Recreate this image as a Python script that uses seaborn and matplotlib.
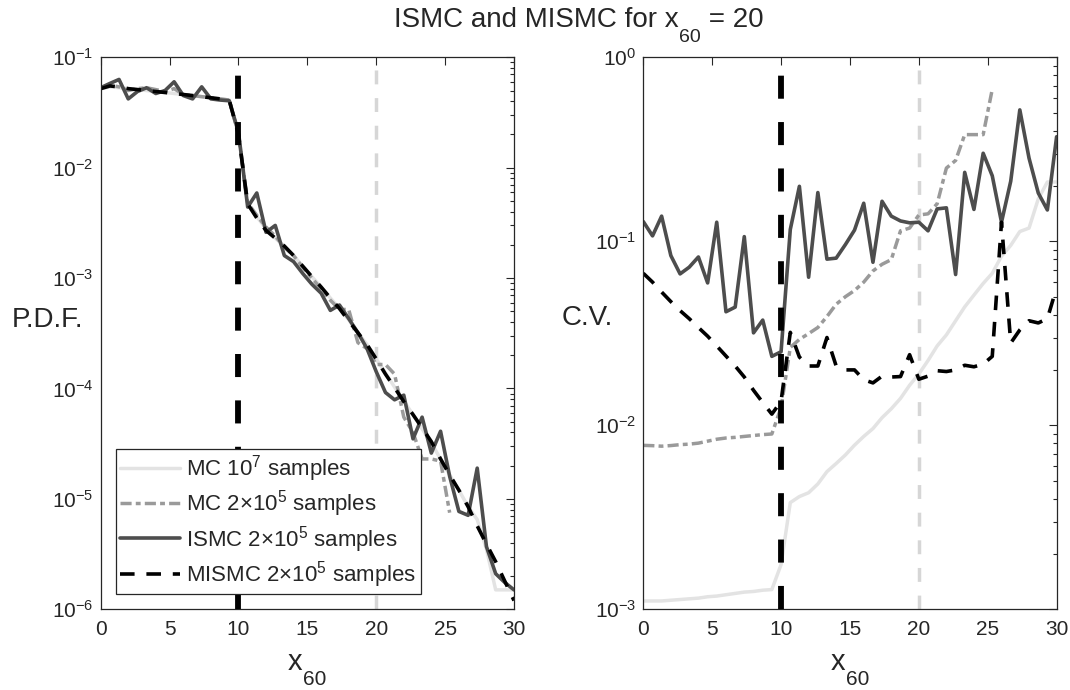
import numpy as np
import pandas as pd
import matplotlib
matplotlib.use("Agg")
import matplotlib.pyplot as plt
from matplotlib.transforms import IdentityTransform
import seaborn as sns

# ---------------- data ----------------
x60 = [0.00, 0.67, 1.33, 2.00, 2.67, 3.33, 4.00, 4.67, 5.33, 6.00,
       6.67, 7.33, 8.00, 8.67, 9.33, 10.00, 10.67, 11.33, 12.00, 12.67,
       13.33, 14.00, 14.67, 15.33, 16.00, 16.67, 17.33, 18.00, 18.67, 19.33,
       20.00, 20.67, 21.33, 22.00, 22.67, 23.33, 24.00, 24.67, 25.33, 26.00,
       26.67, 27.33, 28.00, 28.67, 29.33, 30.00]

# P.D.F. (left panel)
pdf_mc_1e7 = [0.052, 0.054, 0.053, 0.052, 0.051, 0.050, 0.049, 0.048, 0.047, 0.046,
              0.045, 0.044, 0.043, 0.042, 0.041, 0.020, 0.0047, 0.0036, 0.0028, 0.0023,
              0.00195, 0.0016, 0.00128, 0.00103, 0.00083, 0.00066, 0.00053, 0.00042, 0.00032, 0.00025,
              0.000185, 0.000138, 0.000103, 7.7e-5, 5.8e-5, 4.3e-5, 3.2e-5, 2.3e-5, 1.65e-5, 1.2e-5,
              8.5e-6, 6.5e-6, 3.5e-6, 1.5e-6, 1.5e-6, 1.5e-6]
pdf_mc_2e5 = [0.053, 0.056, 0.054, 0.050, 0.052, 0.053, 0.051, 0.049, 0.052, 0.046,
              0.045, 0.044, 0.043, 0.042, 0.041, 0.020, 0.0048, 0.0037, 0.0029, 0.0024,
              0.0019, 0.0016, 0.00125, 0.00100, 0.00080, 0.00063, 0.00052, 0.00052, 0.00026, 0.00023,
              0.000165, 0.000165, 0.000135, 5.5e-5, 4.0e-5, 2.3e-5, 2.3e-5, 2.2e-5, 7.5e-6]
pdf_ismc = [0.053, 0.058, 0.063, 0.042, 0.049, 0.053, 0.047, 0.050, 0.060, 0.045,
            0.042, 0.054, 0.042, 0.041, 0.0404, 0.021, 0.0044, 0.0059, 0.0026, 0.0030,
            0.0016, 0.00141, 0.00110, 0.00088, 0.00073, 0.00051, 0.00057, 0.00043, 0.00032, 0.00023,
            0.000142, 9.2e-5, 7.9e-5, 8.7e-5, 3.5e-5, 5.5e-5, 2.6e-5, 4.1e-5, 1.6e-5, 7.7e-6,
            7.1e-6, 1.9e-5, 3.7e-6, 2.1e-6, 1.75e-6, 1.5e-6]
pdf_mismc = [0.052, 0.055, 0.054, 0.052, 0.051, 0.050, 0.049, 0.048, 0.047, 0.046,
             0.045, 0.044, 0.043, 0.042, 0.041, 0.020, 0.0047, 0.0035, 0.0027, 0.0023,
             0.00195, 0.0016, 0.00128, 0.00103, 0.00083, 0.00066, 0.00053, 0.00041, 0.00032, 0.00025,
             0.000185, 0.000135, 0.000102, 7.6e-5, 5.8e-5, 4.4e-5, 3.3e-5, 2.3e-5, 1.65e-5, 1.2e-5,
             8.5e-6, 5.7e-6, 3.9e-6, 2.7e-6, 1.8e-6, 1.2e-6]

# C.V. (right panel)
cv_mc_1e7 = [0.00111, 0.00111, 0.00111, 0.00112, 0.00113, 0.00114, 0.00115, 0.00117, 0.00118, 0.00120,
             0.00122, 0.00124, 0.00125, 0.00127, 0.00128, 0.00175, 0.0038, 0.0041, 0.0043, 0.0048,
             0.0056, 0.0062, 0.0069, 0.0078, 0.0087, 0.0096, 0.0110, 0.0123, 0.0140, 0.0165,
             0.0190, 0.0225, 0.0270, 0.0310, 0.0370, 0.0440, 0.0510, 0.0590, 0.0670, 0.0830,
             0.0950, 0.113, 0.118, 0.170, 0.210, 0.210]
cv_mc_2e5 = [0.00778, 0.00775, 0.00770, 0.00776, 0.00785, 0.0079, 0.0080, 0.0082, 0.0084, 0.00853,
             0.0086, 0.0087, 0.0088, 0.0089, 0.00897, 0.0125, 0.0265, 0.0293, 0.0315, 0.034,
             0.039, 0.0455, 0.050, 0.054, 0.060, 0.069, 0.075, 0.0795, 0.114, 0.118,
             0.139, 0.141, 0.160, 0.250, 0.275, 0.380, 0.380, 0.380, 0.670]
cv_ismc = [0.128, 0.107, 0.137, 0.0836, 0.0665, 0.0723, 0.0822, 0.0594, 0.127, 0.0414,
           0.0439, 0.106, 0.0318, 0.0373, 0.0237, 0.0251, 0.116, 0.199, 0.0638, 0.184,
           0.080, 0.081, 0.096, 0.115, 0.161, 0.0769, 0.165, 0.137, 0.129, 0.126,
           0.127, 0.114, 0.150, 0.152, 0.066, 0.237, 0.149, 0.301, 0.227, 0.127,
           0.212, 0.518, 0.283, 0.183, 0.148, 0.370]
cv_mismc = [0.067, 0.060, 0.053, 0.047, 0.042, 0.038, 0.034, 0.0305, 0.027, 0.0238,
            0.021, 0.0183, 0.0155, 0.0133, 0.0115, 0.0135, 0.032, 0.0235, 0.021, 0.021,
            0.030, 0.021, 0.020, 0.020, 0.0177, 0.017, 0.0185, 0.0183, 0.0184, 0.0242,
            0.0178, 0.0185, 0.0198, 0.0196, 0.020, 0.0212, 0.0208, 0.0215, 0.0237, 0.127,
            0.028, 0.033, 0.037, 0.036, 0.038, 0.056]

series_labels = ["MC 10$^{7}$ samples",
                 "MC 2\u00d710$^{5}$ samples",
                 "ISMC 2\u00d710$^{5}$ samples",
                 "MISMC 2\u00d710$^{5}$ samples"]
x_threshold = 10   # black vertical reference
x_target = 20      # light grey vertical reference
xticks = [0, 5, 10, 15, 20, 25, 30]
title_parts = ["ISMC and MISMC for x", "60", " = 20"]
xlabel_parts = ["x", "60"]

# ---------------- style ----------------
sns.set_theme(style="white")
plt.rcParams["font.family"] = ["Liberation Sans", "DejaVu Sans"]
plt.rcParams["mathtext.fontset"] = "custom"
plt.rcParams["mathtext.rm"] = "Liberation Sans"
plt.rcParams["mathtext.it"] = "Liberation Sans:italic"
plt.rcParams["mathtext.bf"] = "Liberation Sans:bold"
plt.rcParams["lines.scale_dashes"] = False
plt.rcParams["axes.unicode_minus"] = True

DARK = "#262626"
W, H = 1070, 690
styles = [
    dict(color="#e3e3e3", lw=2.5, linestyle="-"),
    dict(color="#9a9a9a", lw=2.5, linestyle=(0, (8.0, 3.0, 3.5, 3.0))),
    dict(color="#4d4d4d", lw=2.6, linestyle="-"),
    dict(color="#000000", lw=2.6, linestyle=(0, (10.5, 8.5))),
]

fig = plt.figure(figsize=(W / 100, H / 100), dpi=100)
axL = fig.add_axes([100.7 / W, 1 - 609.3 / H, 413.3 / W, 552 / H])
axR = fig.add_axes([643.3 / W, 1 - 609.3 / H, 413.3 / W, 552 / H])

left_series = [pdf_mc_1e7, pdf_mc_2e5, pdf_ismc, pdf_mismc]
right_series = [cv_mc_1e7, cv_mc_2e5, cv_ismc, cv_mismc]

for ax, series in [(axL, left_series), (axR, right_series)]:
    for vals, lab, st in zip(series, series_labels, styles):
        sns.lineplot(x=x60[:len(vals)], y=vals, ax=ax, label=lab,
                     color=st["color"], lw=st["lw"], linestyle=st["linestyle"],
                     sort=False, estimator=None)
    ax.set_yscale("log")
    ax.axvline(x_threshold, color="black", lw=4.2, linestyle=(0, (16.6, 16.8)), zorder=5)
    ax.axvline(x_target, color="#d6d6d6", lw=2.5, linestyle=(0, (10.0, 9.9)), zorder=1)
    ax.set_xlim(0, 30)
    ax.set_xticks(xticks)
    ax.set_xticklabels([str(t) for t in xticks])
    ax.set_xlabel("")
    for sp in ax.spines.values():
        sp.set_visible(True)
        sp.set_color(DARK)
        sp.set_linewidth(0.9)
    ax.tick_params(which="both", direction="in", top=True, right=True,
                   colors=DARK, labelcolor=DARK, width=0.8)
    ax.tick_params(which="major", length=6, labelsize=15)
    ax.tick_params(which="minor", length=3)
    ax.tick_params(axis="x", pad=8)
    ax.tick_params(axis="y", pad=5)

axL.set_ylim(1e-6, 1e-1)
axR.set_ylim(1e-3, 1e0)

axL.set_ylabel("P.D.F.", rotation=0, ha="right", va="center", fontsize=20, color=DARK)
axL.yaxis.set_label_coords(-0.043, 0.524)
axR.set_ylabel("C.V.", rotation=0, ha="right", va="center", fontsize=20, color=DARK)
axR.yaxis.set_label_coords(-0.073, 0.527)

axR.get_legend().remove()
leg = axL.legend(loc="lower left", bbox_to_anchor=(0.037, 0.027), borderaxespad=0,
                 fontsize=16, frameon=True, fancybox=False, framealpha=1,
                 edgecolor=DARK, handlelength=2.7, handletextpad=0.25,
                 labelspacing=0.2, borderpad=0.2)
leg.get_frame().set_linewidth(0.9)
for t in leg.get_texts():
    t.set_color(DARK)


# text with a MATLAB-like (large, deeply lowered) subscript
def place_parts(cx, baseline_top, parts):
    renderer = fig.canvas.get_renderer()
    items = []
    for s, fs, dy in parts:
        t = fig.text(0, 0, s, fontsize=fs, color=DARK, ha="left", va="baseline",
                     transform=IdentityTransform())
        items.append((t, t.get_window_extent(renderer).width, dy))
    x = cx - sum(w for _, w, _ in items) / 2
    for t, w, dy in items:
        t.set_position((x, H - baseline_top - dy))
        x += w


place_parts(579, 27, [(title_parts[0], 20, 0), (title_parts[1], 14, 15), (title_parts[2], 20, 0)])
place_parts(307, 670, [(xlabel_parts[0], 21, 0), (xlabel_parts[1], 15, 15)])
place_parts(850, 670, [(xlabel_parts[0], 21, 0), (xlabel_parts[1], 15, 15)])

fig.savefig("out.png", dpi=100)
